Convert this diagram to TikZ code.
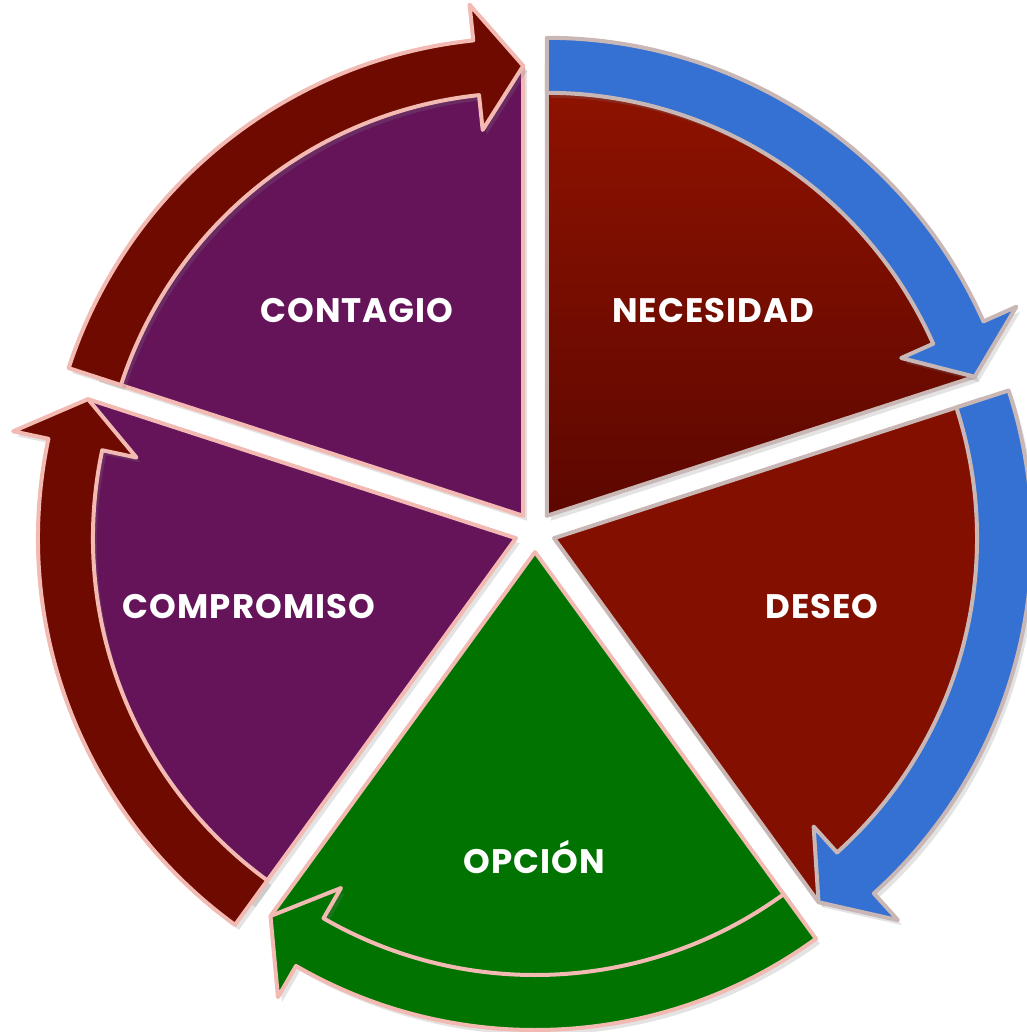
\documentclass[tikz,border=0pt]{standalone}
\usepackage{fontspec}
\setsansfont{Poppins}[LetterSpace=3]
\usetikzlibrary{shadows}

\definecolor{needtop}{HTML}{911300}
\definecolor{needbot}{HTML}{5C0700}
\definecolor{wishred}{HTML}{830F00}
\definecolor{choicegreen}{HTML}{007300}
\definecolor{plum}{HTML}{65145A}
\definecolor{arrowblue}{HTML}{3571D2}
\definecolor{arrowred}{HTML}{6F0A00}
\definecolor{greyrim}{HTML}{C9B7B6}
\definecolor{pinkrim}{HTML}{F2BAB2}

\tikzset{
  rim/.style={line width=4pt, line join=round, draw=#1,
    drop shadow={opacity=0.22, shadow xshift=4pt, shadow yshift=-5pt}},
  cycletext/.style={text=white, font=\sffamily\bfseries\fontsize{34}{40}\selectfont}
}

% one exploded slice of the pie: bisector, start angle, end angle, style
\newcommand{\cyclewedge}[4]{%
  \path[#4, shift={(#1:20)}] (0,0) -- (#2:450)
    arc[start angle=#2, end angle=#3, radius=450] -- cycle;}
% bent arrow along the rim of a slice
\newcommand{\cyclearrow}[4]{%
  \path[#4, shift={(#1:20)}] (#2:478)
    arc[start angle=#2, end angle=#3+6, radius=478]
    -- (#3+6:514) -- (#3:450) -- (#3+6:388) -- (#3+6:423)
    arc[start angle=#3+6, end angle=#2, radius=423] -- cycle;}

\begin{document}
\begin{tikzpicture}[x=1pt,y=1pt]
\useasboundingbox (-535,-500) rectangle (491,532);

% slices
\cyclewedge{54}{90}{18}{rim=greyrim, top color=needtop, bottom color=needbot}
\cyclewedge{-18}{18}{-54}{rim=greyrim, fill=wishred}
\cyclewedge{-90}{-54}{-126}{rim=pinkrim, fill=choicegreen}
\cyclewedge{-162}{-126}{-198}{rim=pinkrim, fill=plum}
\cyclewedge{126}{162}{90}{rim=pinkrim, fill=plum}

% arrows
\cyclearrow{54}{90}{18}{rim=greyrim, fill=arrowblue}
\cyclearrow{-18}{18}{-54}{rim=greyrim, fill=arrowblue}
\cyclearrow{-90}{-54}{-126}{rim=pinkrim, fill=choicegreen}
\cyclearrow{-162}{-126}{-198}{rim=pinkrim, fill=arrowred}
\cyclearrow{126}{162}{90}{rim=pinkrim, fill=arrowred}

% labels
\node[cycletext] (necesidad) at (178,221) {NECESIDAD};
\node[cycletext] (deseo) at (287,-75) {DESEO};
\node[cycletext] (opcion) at (-1,-325) {OPCIÓN};
\node[cycletext] (compromiso) at (-286,-75) {COMPROMISO};
\node[cycletext] (contagio) at (-178,221) {CONTAGIO};
\end{tikzpicture}
\end{document}
